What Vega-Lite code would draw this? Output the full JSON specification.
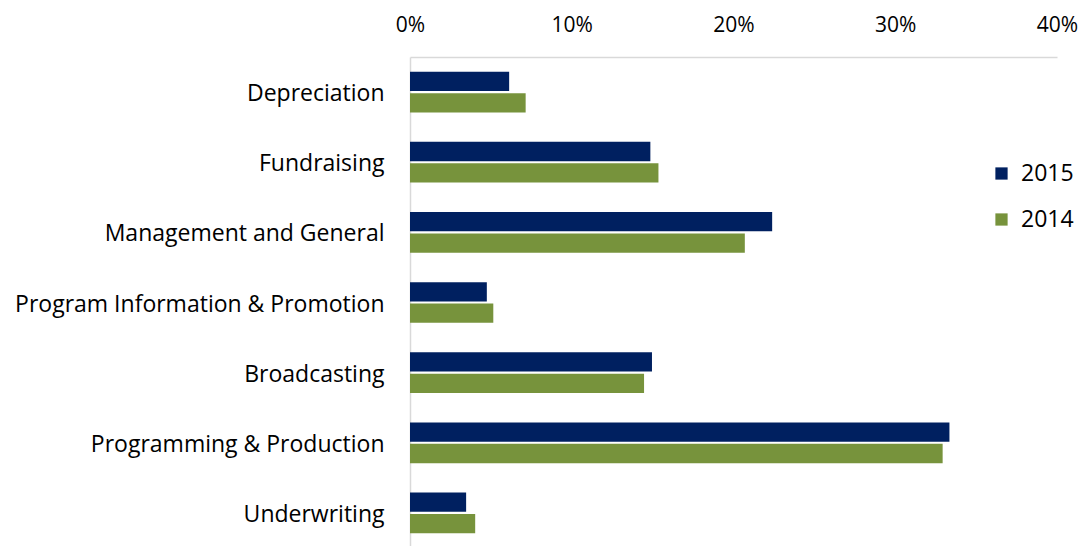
{
  "$schema": "https://vega.github.io/schema/vega-lite/v6.json",
  "autosize": "none",
  "padding": {"left": 410, "top": 57, "right": 27, "bottom": 0},
  "width": 647,
  "height": 491,
  "background": "white",
  "config": {"view": {"stroke": null}, "font": "Open Sans"},
  "data": {
    "values": [
      {"category": "Depreciation", "year": "2015", "value": 0.0613},
      {"category": "Depreciation", "year": "2014", "value": 0.0715},
      {"category": "Fundraising", "year": "2015", "value": 0.1486},
      {"category": "Fundraising", "year": "2014", "value": 0.1536},
      {"category": "Management and General", "year": "2015", "value": 0.2239},
      {"category": "Management and General", "year": "2014", "value": 0.2070},
      {"category": "Program Information & Promotion", "year": "2015", "value": 0.0475},
      {"category": "Program Information & Promotion", "year": "2014", "value": 0.0515},
      {"category": "Broadcasting", "year": "2015", "value": 0.1496},
      {"category": "Broadcasting", "year": "2014", "value": 0.1447},
      {"category": "Programming & Production", "year": "2015", "value": 0.3335},
      {"category": "Programming & Production", "year": "2014", "value": 0.3293},
      {"category": "Underwriting", "year": "2015", "value": 0.0347},
      {"category": "Underwriting", "year": "2014", "value": 0.0403}
    ]
  },
  "mark": {"type": "bar"},
  "encoding": {
    "y": {
      "field": "category",
      "type": "nominal",
      "sort": ["Depreciation", "Fundraising", "Management and General", "Program Information & Promotion", "Broadcasting", "Programming & Production", "Underwriting"],
      "scale": {"paddingInner": 0.42, "paddingOuter": 0.21},
      "axis": {
        "title": null,
        "ticks": false,
        "domainColor": "#D9D9D9",
        "domainWidth": 1.5,
        "labelFontSize": 23,
        "labelColor": "#000000",
        "labelPadding": 26,
        "labelOffset": 2,
        "labelLimit": 420
      }
    },
    "yOffset": {
      "field": "year",
      "type": "nominal",
      "sort": ["2015", "2014"],
      "scale": {"paddingInner": 0.1}
    },
    "x": {
      "field": "value",
      "type": "quantitative",
      "scale": {"domain": [0, 0.4]},
      "axis": {
        "orient": "top",
        "title": null,
        "format": ".0%",
        "values": [0, 0.1, 0.2, 0.3, 0.4],
        "ticks": false,
        "grid": false,
        "domainColor": "#D9D9D9",
        "domainWidth": 1.5,
        "labelFontSize": 21,
        "labelColor": "#000000",
        "labelPadding": 22,
        "labelFlush": false
      }
    },
    "color": {
      "field": "year",
      "type": "nominal",
      "sort": ["2015", "2014"],
      "scale": {"domain": ["2015", "2014"], "range": ["#002060", "#77933C"]},
      "legend": {
        "title": null,
        "orient": "none",
        "legendX": 580,
        "legendY": 105,
        "symbolType": "square",
        "symbolSize": 150,
        "symbolStrokeWidth": 0,
        "labelFontSize": 23,
        "labelColor": "#000000",
        "rowPadding": 22,
        "labelOffset": 8
      }
    }
  }
}
